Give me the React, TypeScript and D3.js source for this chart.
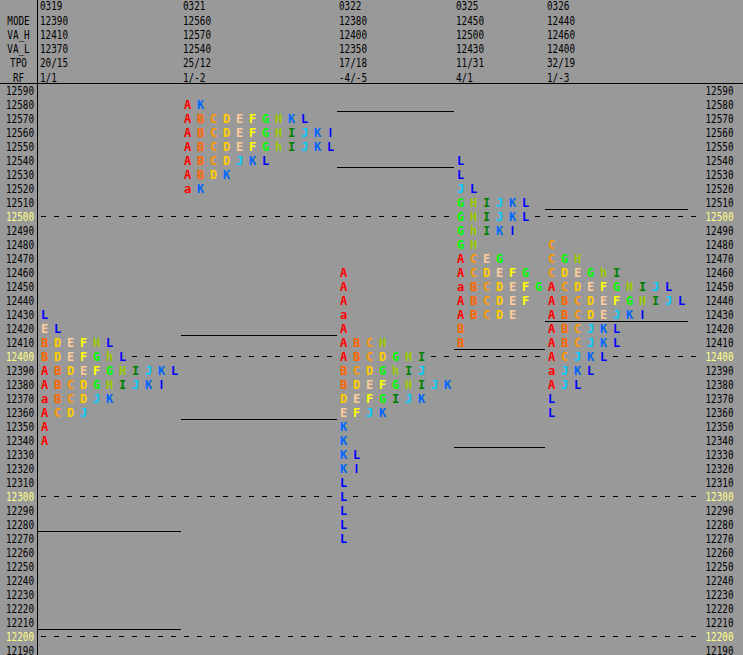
import React from 'react';
import * as d3 from 'd3';

// header table
const days = ['0319', '0321', '0322', '0325', '0326'];
const modes = ['12390', '12560', '12380', '12450', '12440'];
const vaHighs = ['12410', '12570', '12400', '12500', '12460'];
const vaLows = ['12370', '12540', '12350', '12430', '12400'];
const tpos = ['20/15', '25/12', '17/18', '11/31', '32/19'];
const rfs = ['1/1', '1/-2', '-4/-5', '4/1', '1/-3'];
const rowNames = ['MODE', 'VA_H', 'VA_L', 'TPO', 'RF'];

// TPO profiles: [price, letters]  (a = open, h = mid, l = close)
const profile0319: [number, string][] = [
  [12430, 'L'],
  [12420, 'EL'],
  [12410, 'BDEFHL'],
  [12400, 'BDEFGhL'],
  [12390, 'ABDEFGHIJKL'],
  [12380, 'ABCDGHIJKl'],
  [12370, 'aBCDJK'],
  [12360, 'ACDJ'],
  [12350, 'A'],
  [12340, 'A'],
];
const profile0321: [number, string][] = [
  [12580, 'AK'],
  [12570, 'ABCDEFGHKL'],
  [12560, 'ABCDEFGHIJKl'],
  [12550, 'ABCDEFGhIJKL'],
  [12540, 'ABCDJKL'],
  [12530, 'ABDK'],
  [12520, 'aK'],
];
const profile0322: [number, string][] = [
  [12460, 'A'],
  [12450, 'A'],
  [12440, 'A'],
  [12430, 'a'],
  [12420, 'A'],
  [12410, 'ABCH'],
  [12400, 'ABCDGHI'],
  [12390, 'BCDGhIJ'],
  [12380, 'BDEFGHIJK'],
  [12370, 'DEFGIJK'],
  [12360, 'EFJK'],
  [12350, 'K'],
  [12340, 'K'],
  [12330, 'KL'],
  [12320, 'Kl'],
  [12310, 'L'],
  [12300, 'L'],
  [12290, 'L'],
  [12280, 'L'],
  [12270, 'L'],
];
const profile0325: [number, string][] = [
  [12540, 'L'],
  [12530, 'L'],
  [12520, 'JL'],
  [12510, 'GHIJKL'],
  [12500, 'GHIJKL'],
  [12490, 'GhIKl'],
  [12480, 'GH'],
  [12470, 'ACEG'],
  [12460, 'ACDEFG'],
  [12450, 'aBCDEFG'],
  [12440, 'ABCDEF'],
  [12430, 'ABCDE'],
  [12420, 'B'],
  [12410, 'B'],
];
const profile0326: [number, string][] = [
  [12480, 'C'],
  [12470, 'CGH'],
  [12460, 'CDEGhI'],
  [12450, 'ACDEFGHIJL'],
  [12440, 'ABCDEFGHIJL'],
  [12430, 'ABCDEJKl'],
  [12420, 'ABCJKL'],
  [12410, 'ABCJKL'],
  [12400, 'ACJKL'],
  [12390, 'aJKL'],
  [12380, 'AJL'],
  [12370, 'L'],
  [12360, 'L'],
];
const profiles = [profile0319, profile0321, profile0322, profile0325, profile0326];

// previous day's value area, drawn inside the next day's column (first one = 0318)
const prevVaHigh = [12270, 12410, 12570, 12400, 12500];
const prevVaLow = [12210, 12360, 12540, 12340, 12430];

const priceTicks = d3.range(12590, 12180, -10);

const letterColors: Record<string, string> = {
  A: '#ff0000', B: '#ff6600', C: '#ff9900', D: '#ffcc00', E: '#ffcc99', F: '#ffff00',
  G: '#00ff00', H: '#99cc00', I: '#008000', J: '#00ccff', K: '#0066ff', L: '#0000ff',
};

const W = 743;
const H = 655;
const BG = '#999999';
const CELL = 13;
const FIRST_COL = 41;
const AXIS_X = 37.5;
const CHART_END = 697;
const MONO = '"DejaVu Sans Mono", "Liberation Mono", monospace';
const SANS = '"Liberation Sans", Arial, sans-serif';

function Txt({ x, y, s, anchor = 'start', fill = '#000' }: { x: number; y: number; s: string; anchor?: string; fill?: string }) {
  return (
    <text x={x} y={y} textAnchor={anchor} fill={fill} fontSize={12} fontFamily={MONO}
      textLength={s.length * 5.6} lengthAdjust="spacingAndGlyphs">{s}</text>
  );
}

export default function App() {
  const y = d3.scaleLinear().domain([12590, 12190]).range([91, 651]);

  const widths = profiles.map((p) => d3.max(p, (r) => r[1].length) ?? 0);
  const colStarts: number[] = [];
  widths.reduce((acc, w) => { colStarts.push(acc); return acc + w * CELL; }, FIRST_COL);
  const cellX = (col: number, i: number) => colStarts[col] + i * CELL;

  const headerRows = [modes, vaHighs, vaLows, tpos, rfs];
  const headerY = (k: number) => 6 + k * 14.2;

  return (
    <svg width={W} height={H} style={{ position: 'fixed', left: 0, top: 0, display: 'block' }}>
      <rect width={W} height={H} fill={BG} />

      {/* header */}
      {days.map((d, c) => (
        <Txt key={'d' + c} x={colStarts[c] - 1} y={headerY(0) + 3.5} s={d} />
      ))}
      {rowNames.map((n, k) => (
        <Txt key={'n' + k} x={18.5} y={headerY(k + 1) + 4.5} s={n} anchor="middle" />
      ))}
      {headerRows.map((row, k) =>
        row.map((v, c) => <Txt key={`h${k}-${c}`} x={colStarts[c] - 1} y={headerY(k + 1) + 4.5} s={v} />)
      )}
      <line x1={0} x2={W} y1={83.5} y2={83.5} stroke="#000" />
      <line x1={AXIS_X} x2={AXIS_X} y1={0} y2={H} stroke="#000" />

      {/* price axes */}
      {priceTicks.map((p) => {
        const fill = p % 100 === 0 ? '#ffff88' : '#000';
        return (
          <g key={'t' + p}>
            <Txt x={34} y={y(p) + 4} s={String(p)} anchor="end" fill={fill} />
            <Txt x={705.5} y={y(p) + 4} s={String(p)} fill={fill} />
          </g>
        );
      })}

      {/* round-number guide lines */}
      {priceTicks.filter((p) => p % 100 === 0).map((p) => (
        <line key={'g' + p} x1={FIRST_COL} x2={CHART_END} y1={y(p) - 0.5} y2={y(p) - 0.5}
          stroke="#000" strokeDasharray="5,8" />
      ))}

      {/* previous value area lines */}
      {colStarts.map((cx, c) => {
        const x1 = c === 0 ? AXIS_X : cx - 3;
        const x2 = cx + widths[c] * CELL - 3;
        return (
          <g key={'va' + c}>
            <line x1={x1} x2={x2} y1={y(prevVaHigh[c]) - 7.5} y2={y(prevVaHigh[c]) - 7.5} stroke="#000" />
            <line x1={x1} x2={x2} y1={y(prevVaLow[c]) + 6.5} y2={y(prevVaLow[c]) + 6.5} stroke="#000" />
          </g>
        );
      })}

      {/* TPO letters */}
      {profiles.map((prof, c) =>
        prof.map(([p, letters]) =>
          letters.split('').map((ch, i) => (
            <g key={`${c}-${p}-${i}`}>
              <rect x={cellX(c, i) - 1} y={y(p) - 6} width={10} height={12} fill={BG} />
              <text x={cellX(c, i) + 3.5} y={y(p) + 3.5} textAnchor="middle" fontSize={12}
                fontWeight="bold" fontFamily={ch === 'l' ? SANS : MONO}
                fill={letterColors[ch.toUpperCase()]}>{ch}</text>
            </g>
          ))
        )
      )}
    </svg>
  );
}
